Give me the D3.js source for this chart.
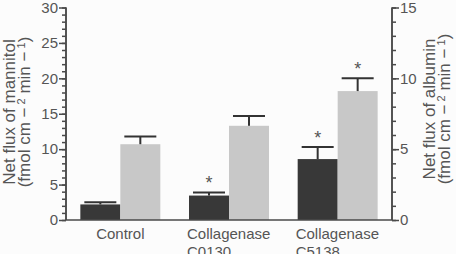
<!DOCTYPE html>
<html>
<head>
<meta charset="utf-8">
<script src="https://cdn.jsdelivr.net/npm/d3@7"></script>
<style>
  html, body { margin: 0; padding: 0; background: #fcfcfc; }
  svg { display: block; }
  text { font-family: "Liberation Sans", Arial, sans-serif; fill: #555; }
</style>
</head>
<body>
<svg id="chart" width="456" height="254"></svg>
<script>
// groups along the x axis
var categories = ["Control", "Collagenase C0130", "Collagenase C5138"];
var categoryLines = [["Control"], ["Collagenase", "C0130"], ["Collagenase", "C5138"]];
// mannitol flux (left axis), fmol cm-2 min-1
var mannitol = [2.2, 3.45, 8.6];
var mannitolErr = [0.3, 0.45, 1.7];
var mannitolSig = [false, true, true];
// albumin flux (right axis)
var albumin = [5.35, 6.65, 9.1];
var albuminErr = [0.55, 0.7, 0.9];
var albuminSig = [false, false, true];
// ticks
var leftTicks = [0, 5, 10, 15, 20, 25, 30];
var rightTicks = [0, 5, 10, 15];

var svg = d3.select("#chart");
var plotL = 66, plotR = 392, plotT = 7.5, plotB = 220;
var axisColor = "#4a4a4a", darkColor = "#383838", lightColor = "#c8c8c8";

var x = d3.scaleBand().domain(categories).range([plotL, plotR]).paddingInner(0.264).paddingOuter(0.132);
var sub = d3.scaleBand().domain(["m", "a"]).range([0, x.bandwidth()]);
var yL = d3.scaleLinear().domain([0, 30]).range([plotB, plotT]);
var yR = d3.scaleLinear().domain([0, 15]).range([plotB, plotT]);

var rows = categories.map(function(c, i) {
  return [
    {cat: c, key: "m", v: mannitol[i], e: mannitolErr[i], sig: mannitolSig[i], y: yL, color: darkColor},
    {cat: c, key: "a", v: albumin[i], e: albuminErr[i], sig: albuminSig[i], y: yR, color: lightColor}
  ];
});
var bars = d3.merge(rows);
function mid(d) { return x(d.cat) + sub(d.key) + sub.bandwidth() / 2; }

// bars
svg.selectAll("rect.bar").data(bars).enter().append("rect")
  .attr("class", "bar")
  .attr("x", function(d) { return x(d.cat) + sub(d.key); })
  .attr("width", sub.bandwidth())
  .attr("y", function(d) { return d.y(d.v); })
  .attr("height", function(d) { return plotB - d.y(d.v); })
  .attr("fill", function(d) { return d.color; });

// error bars
var capW = 32;
var err = svg.selectAll("g.err").data(bars).enter().append("g").attr("class", "err")
  .attr("stroke", "#333").attr("stroke-width", 2);
err.append("line")
  .attr("x1", mid).attr("x2", mid)
  .attr("y1", function(d) { return d.y(d.v); })
  .attr("y2", function(d) { return d.y(d.v + d.e); });
err.append("line")
  .attr("x1", function(d) { return mid(d) - capW / 2; })
  .attr("x2", function(d) { return mid(d) + capW / 2; })
  .attr("y1", function(d) { return d.y(d.v + d.e); })
  .attr("y2", function(d) { return d.y(d.v + d.e); });

// significance stars
svg.selectAll("text.star").data(bars.filter(function(d) { return d.sig; })).enter().append("text")
  .attr("class", "star")
  .attr("x", mid)
  .attr("y", function(d) { return d.y(d.v + d.e) - 3; })
  .attr("text-anchor", "middle")
  .attr("font-size", 18)
  .text("*");

// left axis
var gL = svg.append("g").attr("transform", "translate(" + plotL + ",0)");
gL.append("g").call(d3.axisLeft(yL).tickValues(d3.range(0, 31, 1)).tickSize(4).tickFormat(""));
gL.append("g").call(d3.axisLeft(yL).tickValues(leftTicks).tickSize(7).tickPadding(1).tickFormat(d3.format("d")));
gL.selectAll("path, line").attr("stroke", axisColor).attr("stroke-width", 1.5);
gL.selectAll("text").attr("font-size", 15).attr("fill", "#666").attr("font-family", "Liberation Sans, Arial, sans-serif");
gL.selectAll(".domain").attr("d", "M0," + plotT + "V" + plotB);

// right axis
var gR = svg.append("g").attr("transform", "translate(" + plotR + ",0)");
gR.append("g").call(d3.axisRight(yR).tickValues(d3.range(0, 16, 1)).tickSize(4).tickFormat(""));
gR.append("g").call(d3.axisRight(yR).tickValues(rightTicks).tickSize(7).tickPadding(1).tickFormat(d3.format("d")));
gR.selectAll("path, line").attr("stroke", axisColor).attr("stroke-width", 1.5);
gR.selectAll("text").attr("font-size", 15).attr("fill", "#666").attr("font-family", "Liberation Sans, Arial, sans-serif");
gR.selectAll(".domain").attr("d", "M0," + plotT + "V" + plotB);

// baseline
svg.append("line").attr("x1", plotL).attr("x2", plotR).attr("y1", plotB).attr("y2", plotB)
  .attr("stroke", axisColor).attr("stroke-width", 1.5);

// category labels
categoryLines.forEach(function(lines, i) {
  var cx = x(categories[i]) + x.bandwidth() / 2;
  var t = svg.append("text").attr("font-size", 15).attr("y", 239);
  if (lines.length == 1) {
    t.attr("x", cx).attr("text-anchor", "middle").text(lines[0]);
  } else {
    var w = 84;
    t.attr("x", cx - w / 2);
    t.append("tspan").attr("x", cx - w / 2).text(lines[0]);
    t.append("tspan").attr("x", cx - w / 2).attr("dy", 18).text(lines[1]);
  }
});

// axis titles
function title(xPos, yPos, line1) {
  var g = svg.append("g").attr("transform", "translate(" + xPos + "," + yPos + ") rotate(-90)");
  g.append("text").attr("text-anchor", "middle").attr("font-size", 17).attr("y", 0).text(line1);
  var t = g.append("text").attr("text-anchor", "middle").attr("font-size", 17).attr("y", 15);
  t.append("tspan").text("(fmol cm \u2212");
  t.append("tspan").attr("font-size", 11).attr("dy", -5).text(" 2");
  t.append("tspan").attr("dy", 5).text(" min \u2212");
  t.append("tspan").attr("font-size", 11).attr("dy", -5).text(" 1");
  t.append("tspan").attr("dy", 5).text(")");
}
title(15, 112, "Net flux of mannitol");
title(435, 109, "Net flux of albumin");
</script>
</body>
</html>
